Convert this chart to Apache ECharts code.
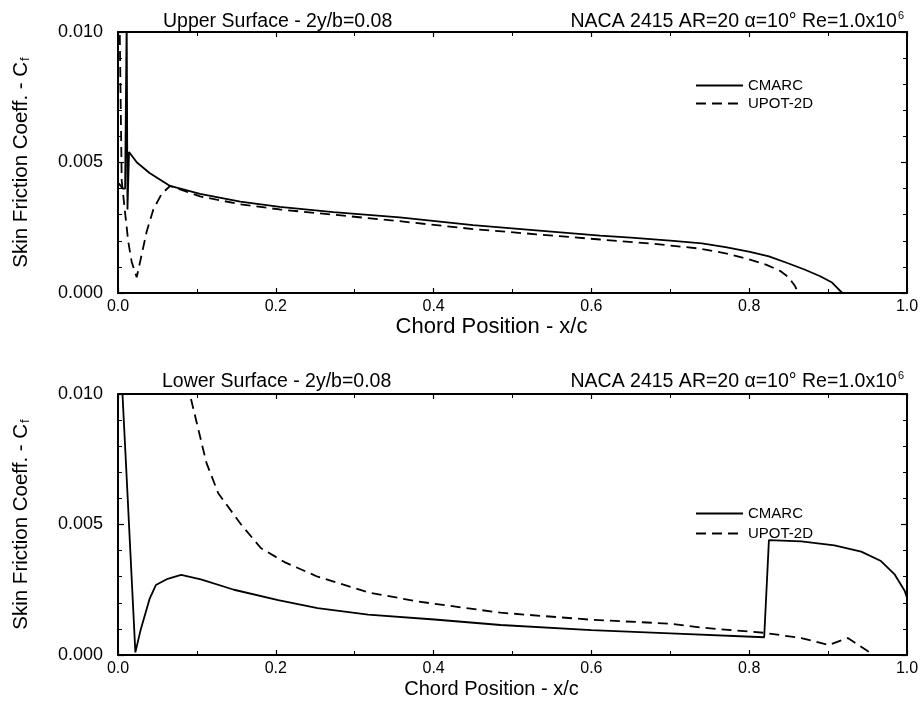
<!DOCTYPE html>
<html>
<head>
<meta charset="utf-8">
<script src="https://cdn.jsdelivr.net/npm/echarts@6/dist/echarts.min.js"></script>
<style>
html,body{margin:0;padding:0;background:#fff;}
#chart{width:923px;height:704px;}
</style>
</head>
<body>
<div id="chart"></div>
<script>
// ---------- data ----------
var upperCmarcX = [0.001, 0.006, 0.009, 0.011, 0.012, 0.014, 0.024, 0.040, 0.066, 0.104, 0.155, 0.205, 0.273, 0.357, 0.450, 0.530, 0.611, 0.650, 0.700, 0.740, 0.770, 0.801, 0.825, 0.850, 0.870, 0.890, 0.905, 0.918];
var upperCmarcY = [0.0042, 0.0040, 0.0040, 0.0105, 0.0032, 0.0054, 0.0050, 0.0046, 0.0041, 0.0038, 0.0035, 0.0033, 0.0031, 0.0029, 0.0026, 0.0024, 0.0022, 0.00212, 0.00201, 0.0019, 0.00176, 0.00158, 0.0014, 0.00113, 0.0009, 0.00064, 0.0004, 0.0];
var upperUpotX = [0.002, 0.0047, 0.0089, 0.013, 0.0173, 0.0237, 0.030, 0.0363, 0.0448, 0.0553, 0.066, 0.104, 0.155, 0.205, 0.273, 0.357, 0.450, 0.530, 0.611, 0.680, 0.738, 0.770, 0.801, 0.822, 0.839, 0.850, 0.858, 0.862];
var upperUpotY = [0.0105, 0.0043, 0.0031, 0.00197, 0.0012, 0.0006, 0.00147, 0.00235, 0.0032, 0.0038, 0.0041, 0.0037, 0.0034, 0.0032, 0.0030, 0.00275, 0.00245, 0.00225, 0.00205, 0.00188, 0.0017, 0.00152, 0.00128, 0.00108, 0.00085, 0.0006, 0.00027, 0.0];
var lowerCmarcX = [0.004, 0.010, 0.022, 0.029, 0.040, 0.048, 0.063, 0.080, 0.105, 0.147, 0.203, 0.253, 0.317, 0.401, 0.485, 0.600, 0.700, 0.819, 0.825, 0.866, 0.908, 0.942, 0.967, 0.984, 0.997, 1.000];
var lowerCmarcY = [0.0110, 0.0074, 0.0001, 0.0010, 0.00215, 0.00268, 0.00292, 0.00307, 0.0029, 0.0025, 0.0021, 0.0018, 0.00155, 0.00136, 0.00115, 0.00095, 0.00083, 0.00068, 0.0044, 0.00435, 0.0042, 0.00396, 0.0036, 0.0031, 0.00246, 0.0022];
var lowerUpotX = [0.083, 0.112, 0.127, 0.156, 0.181, 0.211, 0.253, 0.317, 0.380, 0.485, 0.600, 0.700, 0.739, 0.819, 0.866, 0.901, 0.925, 0.940, 0.958];
var lowerUpotY = [0.0110, 0.00737, 0.0062, 0.0050, 0.0041, 0.00356, 0.0030, 0.0024, 0.00205, 0.00162, 0.00135, 0.0012, 0.00105, 0.00085, 0.00065, 0.00038, 0.00065, 0.00035, 0.0];
var xTicks = [0.0, 0.2, 0.4, 0.6, 0.8, 1.0];
var yTicks = [0.000, 0.005, 0.010];
var upperTitle = 'Upper Surface - 2y/b=0.08';
var lowerTitle = 'Lower Surface - 2y/b=0.08';
var caseTitle = 'NACA 2415 AR=20 \u03b1=10\u00b0 Re=1.0x10';
var caseExp = '6';
var xName = 'Chord Position - x/c';
var yName = 'Skin Friction Coeff. - C';
var yNameSub = 'f';
var seriesNames = ['CMARC', 'UPOT-2D'];

function pairs(xs, ys) { return xs.map(function (x, i) { return [x, ys[i]]; }); }

var FONT = "'Liberation Sans', Arial, Helvetica, sans-serif";
var chart = echarts.init(document.getElementById('chart'));

function xAxisMain(gridIndex, nameSize, gap) {
  return {
    type: 'value', gridIndex: gridIndex, position: 'bottom',
    min: xTicks[0], max: xTicks[xTicks.length - 1], interval: 0.2,
    axisLine: { show: true, onZero: false, lineStyle: { color: '#000', width: 2 } },
    axisTick: { show: true, inside: true, length: 5, lineStyle: { color: '#000', width: 1.2 } },
    minorTick: { show: true, splitNumber: 2, length: 4, lineStyle: { color: '#000', width: 1 } },
    splitLine: { show: false },
    axisLabel: { color: '#000', fontSize: 16, fontFamily: FONT, margin: 6, formatter: function (v) { return v.toFixed(1); } },
    name: xName, nameLocation: 'middle', nameGap: gap,
    nameTextStyle: { color: '#000', fontSize: nameSize, fontFamily: FONT, padding: [0, 42, 0, 0] }
  };
}
function xAxisTop(gridIndex) {
  return {
    type: 'value', gridIndex: gridIndex, position: 'top',
    min: 0, max: 1, interval: 0.2,
    axisLine: { show: true, onZero: false, lineStyle: { color: '#000', width: 2 } },
    axisTick: { show: true, inside: true, length: 5, lineStyle: { color: '#000', width: 1.2 } },
    minorTick: { show: true, splitNumber: 2, length: 4, lineStyle: { color: '#000', width: 1 } },
    splitLine: { show: false }, axisLabel: { show: false }
  };
}
function yAxisMain(gridIndex) {
  return {
    type: 'value', gridIndex: gridIndex, position: 'left',
    min: yTicks[0], max: yTicks[yTicks.length - 1], interval: 0.005,
    axisLine: { show: true, onZero: false, lineStyle: { color: '#000', width: 2 } },
    axisTick: { show: true, inside: true, length: 6, lineStyle: { color: '#000', width: 1.2 } },
    minorTick: { show: true, splitNumber: 5, length: 4, lineStyle: { color: '#000', width: 1 } },
    splitLine: { show: false },
    axisLabel: { color: '#000', fontSize: 18, fontFamily: FONT, margin: 15, formatter: function (v) { return v.toFixed(3); } },
    name: '{n|' + yName + '}{s|' + yNameSub + '}', nameLocation: 'middle', nameGap: 86, nameRotate: 90,
    nameTextStyle: {
      color: '#000', fontFamily: FONT,
      rich: {
        n: { fontSize: 20.5, fontFamily: FONT, color: '#000', lineHeight: 22, verticalAlign: 'middle' },
        s: { fontSize: 13, fontFamily: FONT, color: '#000', lineHeight: 22, verticalAlign: 'bottom', padding: [8, 0, 0, 1] }
      }
    }
  };
}
function yAxisRight(gridIndex) {
  return {
    type: 'value', gridIndex: gridIndex, position: 'right',
    min: 0, max: 0.01, interval: 0.005,
    axisLine: { show: true, onZero: false, lineStyle: { color: '#000', width: 2 } },
    axisTick: { show: true, inside: true, length: 6, lineStyle: { color: '#000', width: 1.2 } },
    minorTick: { show: true, splitNumber: 5, length: 4, lineStyle: { color: '#000', width: 1 } },
    splitLine: { show: false }, axisLabel: { show: false }
  };
}
function lineSeries(name, data, xi, yi, dashed) {
  return {
    type: 'line', name: name, data: data, xAxisIndex: xi, yAxisIndex: yi,
    symbol: 'none', showSymbol: false, clip: true, animation: false,
    lineStyle: { color: '#000', width: 1.8, type: dashed ? [10, 6] : 'solid' },
    itemStyle: { color: '#000' }
  };
}
function caseTitleObj(top) {
  return {
    text: '{a|' + caseTitle + '}{s|' + caseExp + '}', right: 14, top: top,
    textStyle: {
      fontWeight: 'normal',
      rich: {
        a: { fontSize: 19.5, fontFamily: FONT, color: '#000', lineHeight: 22, verticalAlign: 'bottom' },
        s: { fontSize: 11, fontFamily: FONT, color: '#000', lineHeight: 22, verticalAlign: 'top', padding: [0, 0, 9, 1] }
      }
    }
  };
}
function legendObj(top, gap) {
  return {
    orient: 'vertical', left: 690, top: top, itemWidth: 47, itemHeight: 12, itemGap: gap, selectedMode: false,
    data: seriesNames,
    itemStyle: { color: 'rgba(0,0,0,0)', borderWidth: 0, opacity: 0 },
    textStyle: { fontSize: 15, fontFamily: FONT, color: '#000' }
  };
}

var option = {
  backgroundColor: '#fff',
  animation: false,
  title: [
    { text: upperTitle, left: 158, top: 7, textStyle: { fontSize: 19.5, fontWeight: 'normal', fontFamily: FONT, color: '#000' } },
    caseTitleObj(5),
    { text: lowerTitle, left: 157, top: 367, textStyle: { fontSize: 19.5, fontWeight: 'normal', fontFamily: FONT, color: '#000' } },
    caseTitleObj(365)
  ],
  legend: [legendObj(73, 3), legendObj(501, 5)],
  grid: [
    { left: 118, top: 32, width: 789, height: 261 },
    { left: 118, top: 394, width: 789, height: 261 }
  ],
  xAxis: [xAxisMain(0, 22, 23), xAxisTop(0), xAxisMain(1, 20, 24), xAxisTop(1)],
  yAxis: [yAxisMain(0), yAxisRight(0), yAxisMain(1), yAxisRight(1)],
  series: [
    lineSeries(seriesNames[0], pairs(upperCmarcX, upperCmarcY), 0, 0, false),
    lineSeries(seriesNames[1], pairs(upperUpotX, upperUpotY), 0, 0, true),
    lineSeries(seriesNames[0], pairs(lowerCmarcX, lowerCmarcY), 2, 2, false),
    lineSeries(seriesNames[1], pairs(lowerUpotX, lowerUpotY), 2, 2, true)
  ]
};
chart.setOption(option);
</script>
</body>
</html>
